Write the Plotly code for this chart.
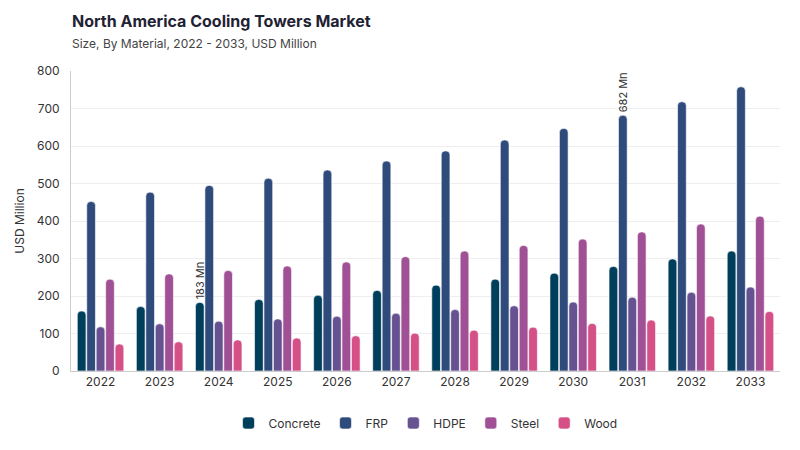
import plotly.graph_objects as go

years = ["2022", "2023", "2024", "2025", "2026", "2027", "2028", "2029", "2030", "2031", "2032", "2033"]

concrete = [160, 172, 183, 191, 202, 215, 229, 245, 261, 279, 299, 320]
frp = [452, 477, 495, 514, 536, 560, 587, 616, 647, 682, 718, 758]
hdpe = [118, 126, 133, 139, 146, 154, 164, 174, 184, 197, 210, 224]
steel = [245, 259, 268, 280, 291, 305, 320, 335, 352, 371, 392, 413]
wood = [72, 78, 83, 88, 94, 101, 109, 117, 127, 136, 147, 159]

# only a couple of bars carry a label
concrete_labels = ["", "", "183 Mn", "", "", "", "", "", "", "", "", ""]
frp_labels = ["", "", "", "", "", "", "", "", "", "682 Mn", "", ""]

series = [
    ("Concrete", concrete, "#003f5c", concrete_labels),
    ("FRP", frp, "#2f4b7c", frp_labels),
    ("HDPE", hdpe, "#665191", None),
    ("Steel", steel, "#a05195", None),
    ("Wood", wood, "#d45087", None),
]

fig = go.Figure()
for name, vals, color, labels in series:
    fig.add_trace(
        go.Bar(
            name=name,
            x=years,
            y=vals,
            marker=dict(color=color, line=dict(color="rgba(255,255,255,0.6)", width=1)),
            text=labels,
            textposition="outside" if labels else None,
            textangle=-90,
            textfont=dict(size=11, color="#333333"),
            cliponaxis=False,
        )
    )

fig.update_layout(
    width=800,
    height=450,
    barmode="group",
    bargap=0.2,
    bargroupgap=0.08,
    barcornerradius=4,
    plot_bgcolor="white",
    paper_bgcolor="white",
    font=dict(family="Inter, Noto Sans, sans-serif", color="#333333", size=12),
    margin=dict(l=71, r=20, t=71, b=79, autoexpand=False),
    title=dict(
        text="<b>North America Cooling Towers Market</b>"
        "<br><span style='font-size:12px;color:#444444'>Size, By Material, 2022 - 2033, USD Million</span>",
        x=72 / 800,
        xanchor="left",
        y=0.939,
        yanchor="top",
        font=dict(size=16, color="#1f2233"),
    ),
    yaxis=dict(
        title=dict(text="USD Million", font=dict(size=12, color="#333333"), standoff=9),
        range=[0, 800],
        dtick=100,
        showgrid=True,
        gridcolor="#eeeeee",
        showline=True,
        linecolor="#cccccc",
        ticks="",
        ticklabelstandoff=8,
        zeroline=False,
        automargin=False,
        tickfont=dict(size=12, color="#333333"),
    ),
    xaxis=dict(
        showline=True,
        linecolor="#cccccc",
        ticks="",
        automargin=False,
        tickfont=dict(size=12, color="#333333"),
    ),
    legend=dict(
        orientation="h",
        x=0.5,
        xanchor="center",
        y=-0.125,
        yanchor="top",
        font=dict(size=12, color="#333333"),
        itemwidth=30,
    ),
    uniformtext=dict(minsize=11, mode="show"),
)

# drop the default page margin so the figure sits at the top-left corner
fig.write_html(
    "out.html",
    config={"displayModeBar": False},
    post_script="document.body.style.margin='0';",
)
